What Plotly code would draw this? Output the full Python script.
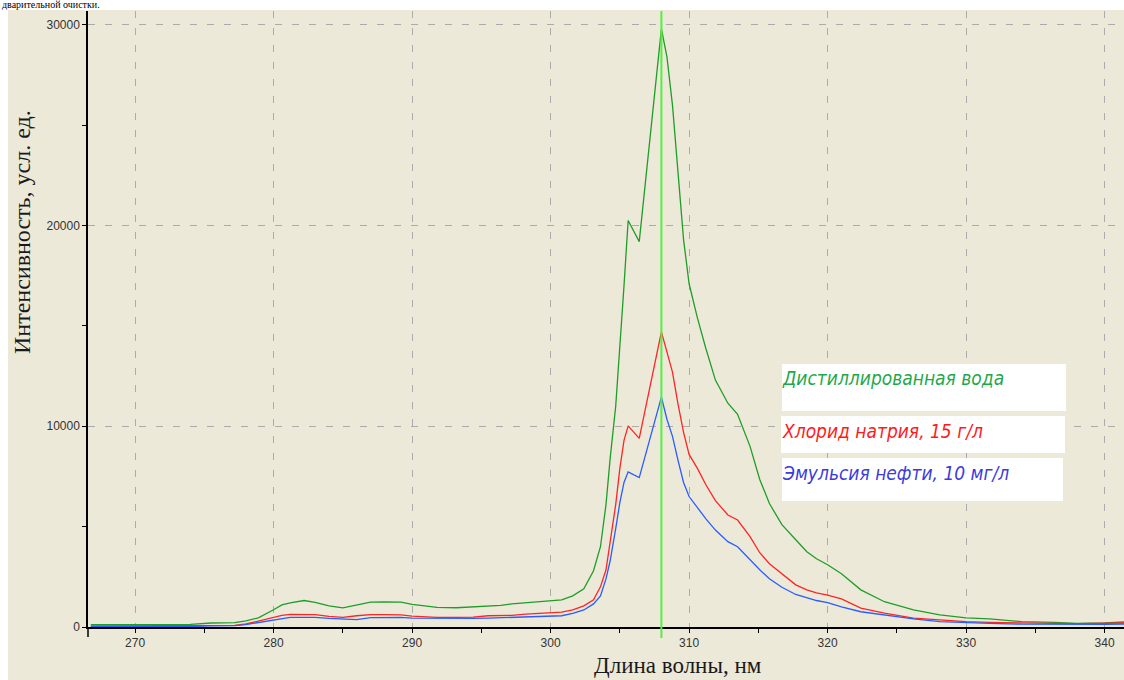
import plotly.graph_objects as go

# ---------------- data ----------------
wavelength = [266.8, 270, 274, 275.5, 277.2, 278, 278.9, 280, 280.6, 281.2, 282.2, 283, 284, 285,
              286, 287, 288, 289.2, 290, 291, 291.8, 293.2, 294.4, 295.5, 296.4, 297.2, 298.2,
              299.2, 300, 300.8, 301.6, 302.4, 303.1, 303.6, 304.0, 304.3, 304.7, 305.0, 305.3,
              305.6, 306.4, 308.0, 308.4, 308.8, 309.2, 309.6, 310.0, 310.6, 311.2, 311.9, 312.8,
              313.5, 314.4, 315.1, 315.8, 316.7, 317.7, 318.5, 319.2, 320, 321, 322.4, 324.1,
              326.2, 328.1, 330, 331.7, 334, 336.4, 338, 340, 341.4]

water = [120, 120, 130, 200, 220, 300, 460, 860, 1100, 1200, 1320, 1230, 1050, 950,
         1100, 1240, 1250, 1240, 1130, 1050, 980, 960, 1000, 1060, 1080, 1150, 1200,
         1250, 1300, 1350, 1550, 1900, 2800, 4000, 6100, 8400, 11000, 13900, 17000,
         20250, 19200, 29800, 28400, 26000, 22700, 19300, 17100, 15400, 13900, 12300, 11150,
         10600, 9000, 7350, 6150, 5100, 4350, 3750, 3400, 3100, 2650, 1850, 1260,
         850, 600, 450, 400, 270, 230, 180, 200, 250]

nacl = [60, 60, 60, 70, 80, 150, 300, 480, 580, 630, 630, 620, 530, 480,
        560, 620, 620, 600, 540, 490, 480, 480, 490, 560, 570, 580, 640,
        680, 710, 740, 850, 1050, 1350, 2000, 2850, 4300, 6100, 7900, 9300,
        10020, 9400, 14700, 13700, 12700, 11100, 9700, 8600, 7900, 7100, 6300, 5580,
        5330, 4500, 3700, 3150, 2650, 2100, 1850, 1700, 1590, 1400, 940, 690,
        440, 350, 270, 230, 190, 180, 170, 190, 200]

oil = [20, 20, 20, 60, 70, 120, 230, 340, 420, 480, 480, 480, 430, 400,
       370, 470, 480, 480, 440, 430, 420, 420, 430, 440, 460, 460, 470,
       490, 530, 560, 680, 850, 1150, 1550, 2400, 3300, 4900, 6200, 7200,
       7730, 7440, 11450, 10350, 9500, 8300, 7200, 6500, 5950, 5400, 4830, 4250,
       4000, 3340, 2850, 2400, 1980, 1620, 1450, 1320, 1210, 1000, 760, 600,
       400, 270, 210, 180, 140, 130, 130, 130, 150]

series_names = ["Дистиллированная вода", "Хлорид натрия, 15 г/л", "Эмульсия нефти, 10 мг/л"]
cursor_wl = 308.0
x_ticks = [270, 280, 290, 300, 310, 320, 330, 340]
y_ticks = [0, 10000, 20000, 30000]

# ---------------- geometry helpers ----------------
W, H = 1124, 680
ML, MR, MT, MB = 88, 0, 11, 53
PW, PH = W - ML - MR, H - MT - MB


def px(x):
    return (x - ML) / PW


def py(y):
    return (H - MB - y) / PH


BG = "#ECE9D8"
line_colors = ["#1E9E28", "#FF2424", "#2A5CFF"]
text_colors = ["#1FA84A", "#FF1A1A", "#3C3CDC"]

fig = go.Figure()
for vals, name, col in zip([water, nacl, oil], series_names, line_colors):
    fig.add_trace(go.Scatter(x=wavelength, y=vals, mode="lines", name=name,
                             line=dict(color=col, width=1.3), showlegend=False))

shapes = [
    # beige panel
    dict(type="rect", xref="paper", yref="paper", x0=px(8), x1=px(W + 2), y0=py(10), y1=py(H + 2),
         fillcolor=BG, line=dict(width=0), layer="below"),
    # y axis extension below x axis
    dict(type="line", xref="paper", yref="paper", x0=0, x1=0, y0=0, y1=py(637),
         line=dict(color="#000000", width=1.5)),
    # cursor line
    dict(type="line", xref="x", yref="paper", x0=cursor_wl, x1=cursor_wl, y0=py(638), y1=1,
         line=dict(color="#55EE44", width=2)),
]

# legend boxes (white rectangles with coloured italic labels)
boxes = [(782, 1066, 364, 411), (781, 1065, 416, 453), (782, 1063, 458, 501)]
text_y = [378, 431, 473]
annotations = []
for (x0, x1, y0, y1), ty, name, tc in zip(boxes, text_y, series_names, text_colors):
    shapes.append(dict(type="rect", xref="paper", yref="paper", x0=px(x0), x1=px(x1),
                       y0=py(y1), y1=py(y0), fillcolor="#FFFFFF", line=dict(width=0), layer="above"))
    annotations.append(dict(text=name, xref="paper", yref="paper", x=px(780), y=py(ty),
                            xanchor="left", yanchor="middle", showarrow=False,
                            font=dict(family="DejaVu Sans Condensed", size=19, color=tc, style="italic")))

# axis titles
annotations.append(dict(text="Длина волны, нм", xref="paper", yref="paper", x=px(678), y=py(666),
                        xanchor="center", yanchor="middle", showarrow=False,
                        font=dict(family="Liberation Serif", size=23, color="#1a1a1a")))
annotations.append(dict(text="Интенсивность, усл. ед.", xref="paper", yref="paper", x=px(22), y=py(232),
                        xanchor="center", yanchor="middle", showarrow=False, textangle=-90,
                        font=dict(family="Liberation Serif", size=24, color="#1a1a1a")))
# text line above the chart panel
annotations.append(dict(text="дварительной очистки.", xref="paper", yref="paper", x=px(0), y=py(5),
                        xanchor="left", yanchor="middle", showarrow=False,
                        font=dict(family="Liberation Serif", size=10, color="#000000")))

grid = dict(gridcolor="#ABABAB", gridwidth=1, griddash="7px,10px")
fig.update_layout(
    width=W, height=H, margin=dict(l=ML, r=MR, t=MT, b=MB),
    paper_bgcolor="#FFFFFF", plot_bgcolor="rgba(0,0,0,0)",
    shapes=shapes, annotations=annotations, showlegend=False,
    xaxis=dict(range=[266.6, 341.4], tickvals=x_ticks, showgrid=True, **grid,
               showline=True, linecolor="#000000", linewidth=1.5, zeroline=False,
               ticks="outside", ticklen=4, tickcolor="#000000",
               minor=dict(dtick=5, ticks="outside", ticklen=4, tickcolor="#000000", showgrid=False),
               tickfont=dict(family="Liberation Sans", size=12, color="#333333")),
    yaxis=dict(range=[0, 30690], tickvals=y_ticks, tickformat="d", showgrid=True, **grid,
               showline=True, linecolor="#000000", linewidth=1.5, zeroline=False,
               ticks="outside", ticklen=4, tickcolor="#000000",
               minor=dict(dtick=5000, ticks="outside", ticklen=4, tickcolor="#000000", showgrid=False),
               tickfont=dict(family="Liberation Sans", size=12, color="#333333")),
)

fig.write_html("out.html")
